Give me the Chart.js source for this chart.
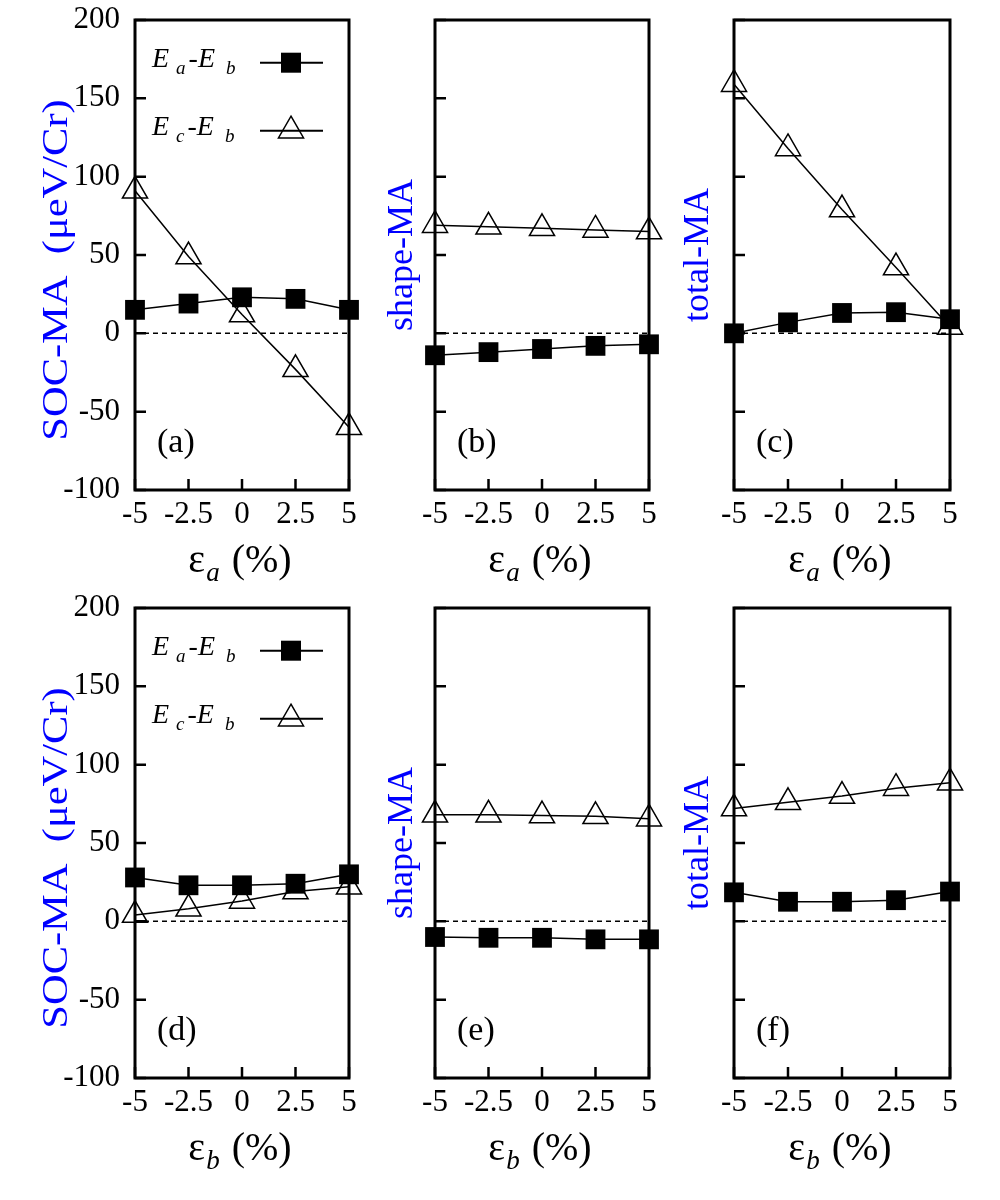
<!DOCTYPE html>
<html>
<head>
<meta charset="utf-8">
<script src="https://cdn.jsdelivr.net/npm/chart.js@4/dist/chart.umd.min.js"></script>
<style>
  body { margin: 0; background: #fff; }
  #wrap { position: relative; width: 1000px; height: 1200px; }
  canvas { position: absolute; }
</style>
</head>
<body>
<div id="wrap">
  <canvas id="pa"></canvas><canvas id="pb"></canvas><canvas id="pc"></canvas>
  <canvas id="pd"></canvas><canvas id="pe"></canvas><canvas id="pf"></canvas>
</div>
<script>
// strain values (x) and tick labels
const strain = [-5, -2.5, 0, 2.5, 5];
const xTicks = [-5, -2.5, 0, 2.5, 5];
const xTickLabels = ['-5', '-2.5', '0', '2.5', '5'];
const yTicks = [-100, -50, 0, 50, 100, 150, 200];

// strain along a
const socA_ab = [15, 19, 23, 22, 15];
const socA_cb = [91, 49, 12, -23, -60];
const shapeA_ab = [-14, -12, -10, -8, -7];
const shapeA_cb = [69, 68, 67, 66, 65];
const totalA_ab = [0, 7, 13, 13.5, 9];
const totalA_cb = [159, 118, 79, 42, 4];

// strain along b
const socB_ab = [28, 23, 23, 24, 30];
const socB_cb = [4, 8, 13, 19, 22];
const shapeB_ab = [-10, -10.5, -10.5, -11.5, -11.5];
const shapeB_cb = [68, 68, 67.5, 67, 65.5];
const totalB_ab = [18.5, 12.5, 12.5, 13.5, 19];
const totalB_cb = [72, 76, 80, 85, 88.5];

const SERIF = "'Liberation Serif', 'Times New Roman', serif";

// canvas boxes and plot areas (page px)
const colBox = [[0, 380], [380, 300], [680, 320]];
const colArea = [[135, 349], [435, 649], [734, 950]];
const rowBox = [[0, 595], [595, 605]];
const rowArea = [[20, 490], [608, 1078]];

const panels = [
  { id: 'pa', col: 0, row: 0, ab: socA_ab, cb: socA_cb, title: 'SOC-MA  (\u03bceV/Cr)', label: '(a)', sub: 'a' },
  { id: 'pb', col: 1, row: 0, ab: shapeA_ab, cb: shapeA_cb, title: 'shape-MA', label: '(b)', sub: 'a' },
  { id: 'pc', col: 2, row: 0, ab: totalA_ab, cb: totalA_cb, title: 'total-MA', label: '(c)', sub: 'a' },
  { id: 'pd', col: 0, row: 1, ab: socB_ab, cb: socB_cb, title: 'SOC-MA  (\u03bceV/Cr)', label: '(d)', sub: 'b' },
  { id: 'pe', col: 1, row: 1, ab: shapeB_ab, cb: shapeB_cb, title: 'shape-MA', label: '(e)', sub: 'b' },
  { id: 'pf', col: 2, row: 1, ab: totalB_ab, cb: totalB_cb, title: 'total-MA', label: '(f)', sub: 'b' }
];

function richText(ctx, parts, x, y) {
  let cx = x;
  parts.forEach(p => {
    ctx.font = p.font;
    cx += p.gap || 0;
    ctx.fillText(p.t, cx, y + (p.dy || 0));
    cx += ctx.measureText(p.t).width;
  });
  return cx;
}

function triangle(ctx, x, y, r) {
  ctx.beginPath();
  for (let k = 0; k < 3; k++) {
    const a = k * 2 * Math.PI / 3;
    const px = x + Math.sin(a) * r, py = y - Math.cos(a) * r;
    if (k === 0) ctx.moveTo(px, py); else ctx.lineTo(px, py);
  }
  ctx.closePath();
  ctx.stroke();
}

const decorPlugin = {
  id: 'decor',
  beforeDatasetsDraw(chart) {
    const ctx = chart.ctx, a = chart.chartArea, y = chart.scales.y, x = chart.scales.x;
    ctx.save();
    ctx.strokeStyle = '#000';
    // zero line
    ctx.lineWidth = 1.5;
    ctx.setLineDash([5, 4]);
    const y0 = y.getPixelForValue(0);
    ctx.beginPath(); ctx.moveTo(a.left, y0); ctx.lineTo(a.right, y0); ctx.stroke();
    ctx.setLineDash([]);
    // frame
    ctx.lineWidth = 3;
    ctx.strokeRect(a.left, a.top, a.right - a.left, a.bottom - a.top);
    // inward ticks
    ctx.lineWidth = 2.5;
    ctx.beginPath();
    yTicks.forEach(v => { const py = y.getPixelForValue(v); ctx.moveTo(a.left, py); ctx.lineTo(a.left + 11, py); });
    xTicks.forEach(v => { const px = x.getPixelForValue(v); ctx.moveTo(px, a.bottom); ctx.lineTo(px, a.bottom - 11); });
    ctx.stroke();
    ctx.restore();
  },
  afterDraw(chart) {
    const p = chart.options.plugins.decor;
    const ctx = chart.ctx, a = chart.chartArea;
    ctx.save();
    ctx.fillStyle = '#000';
    ctx.textAlign = 'left';
    ctx.textBaseline = 'alphabetic';

    // panel label
    ctx.font = '34px ' + SERIF;
    ctx.fillText(p.label, a.left + 22, a.top + 432);

    // x title  ε_a (%)
    const cx = (a.left + a.right) / 2 - 2;
    const xParts = [
      { t: '\u03b5', font: '40px ' + SERIF },
      { t: p.sub, font: 'italic 27px ' + SERIF, dy: 9, gap: 1 },
      { t: ' (%)', font: '40px ' + SERIF, gap: 2 }
    ];
    let w = 0;
    xParts.forEach(q => { ctx.font = q.font; w += ctx.measureText(q.t).width + (q.gap || 0); });
    richText(ctx, xParts, cx - w / 2, a.bottom + 82);

    // y title (blue, rotated)
    ctx.fillStyle = '#0000ff';
    ctx.font = '36px ' + SERIF;
    ctx.save();
    ctx.translate(a.left - p.titleOff, a.top + p.titleMid);
    ctx.rotate(-Math.PI / 2);
    ctx.scale(p.stretch, 1);
    ctx.textAlign = 'center';
    ctx.fillText(p.title, 0, 0);
    ctx.restore();

    // legend
    if (p.legend) {
      ctx.fillStyle = '#000';
      ctx.strokeStyle = '#000';
      [['a', 0], ['c', 68]].forEach(([s, off]) => {
        const by = a.top + 47 + off;
        richText(ctx, [
          { t: 'E', font: 'italic 28px ' + SERIF },
          { t: s, font: 'italic 19px ' + SERIF, dy: 7, gap: 7 },
          { t: '-', font: '28px ' + SERIF, gap: 3 },
          { t: 'E', font: 'italic 28px ' + SERIF, gap: 0 },
          { t: 'b', font: 'italic 19px ' + SERIF, dy: 7, gap: 11 }
        ], a.left + 17, by);
        const ly = a.top + 42.7 + off;
        ctx.lineWidth = 2;
        ctx.beginPath(); ctx.moveTo(a.left + 125, ly); ctx.lineTo(a.left + 188, ly); ctx.stroke();
        if (off === 0) {
          ctx.fillRect(a.left + 146, ly - 10, 20, 20);
        } else {
          ctx.lineWidth = 1.5;
          triangle(ctx, a.left + 156, ly, 14.5);
        }
      });
    }
    ctx.restore();
  }
};

panels.forEach(pn => {
  const [bl, bw] = colBox[pn.col];
  const [bt, bh] = rowBox[pn.row];
  const [al, ar] = colArea[pn.col];
  const [at, ab] = rowArea[pn.row];
  const cv = document.getElementById(pn.id);
  cv.width = bw; cv.height = bh;
  cv.style.left = bl + 'px'; cv.style.top = bt + 'px';
  cv.style.width = bw + 'px'; cv.style.height = bh + 'px';
  const xH = 40;
  const yW = al - bl;
  const showY = pn.col === 0;

  new Chart(cv, {
    type: 'line',
    data: {
      datasets: [
        {
          label: 'Ea-Eb',
          data: strain.map((v, i) => ({ x: v, y: pn.ab[i] })),
          borderColor: '#000', borderWidth: 1.5,
          pointStyle: 'rect', pointRadius: 14, pointHoverRadius: 14,
          pointBackgroundColor: '#000', pointBorderColor: '#000', pointBorderWidth: 0,
          clip: false, order: 0
        },
        {
          label: 'Ec-Eb',
          data: strain.map((v, i) => ({ x: v, y: pn.cb[i] })),
          borderColor: '#000', borderWidth: 1.5,
          pointStyle: 'triangle', pointRadius: 14.5, pointHoverRadius: 14.5,
          pointBackgroundColor: 'rgba(0,0,0,0)', pointBorderColor: '#000', pointBorderWidth: 1.5,
          clip: false, order: 1
        }
      ]
    },
    options: {
      responsive: false,
      animation: false,
      events: [],
      layout: {
        autoPadding: false,
        padding: { left: 0, top: at - bt, right: bl + bw - ar, bottom: bt + bh - ab - xH }
      },
      plugins: {
        legend: { display: false },
        tooltip: { enabled: false },
        decor: {
          label: pn.label, sub: pn.sub, title: pn.title, legend: pn.col === 0,
          titleOff: showY ? 68 : (pn.col === 1 ? 23 : 26),
          titleMid: showY ? 250 : 235,
          stretch: showY ? 1.18 : 1.0
        }
      },
      scales: {
        x: {
          type: 'linear', min: -5, max: 5,
          afterBuildTicks: s => { s.ticks = xTicks.map(v => ({ value: v })); },
          afterFit: s => { s.height = xH; s.paddingLeft = 0; s.paddingRight = 0; },
          grid: { display: false, drawTicks: false },
          border: { display: false },
          ticks: {
            autoSkip: false, maxRotation: 0, padding: 6, color: '#000',
            font: { family: SERIF, size: 31 },
            callback: (v, i) => xTickLabels[i]
          }
        },
        y: {
          type: 'linear', min: -100, max: 200,
          afterBuildTicks: s => { s.ticks = yTicks.map(v => ({ value: v })); },
          afterFit: s => { s.width = yW; s.paddingTop = 0; s.paddingBottom = 0; },
          grid: { display: false, drawTicks: false },
          border: { display: false },
          ticks: {
            display: showY, padding: 15, color: '#000',
            font: { family: SERIF, size: 31 }
          }
        }
      }
    },
    plugins: [decorPlugin]
  });
});
</script>
</body>
</html>
